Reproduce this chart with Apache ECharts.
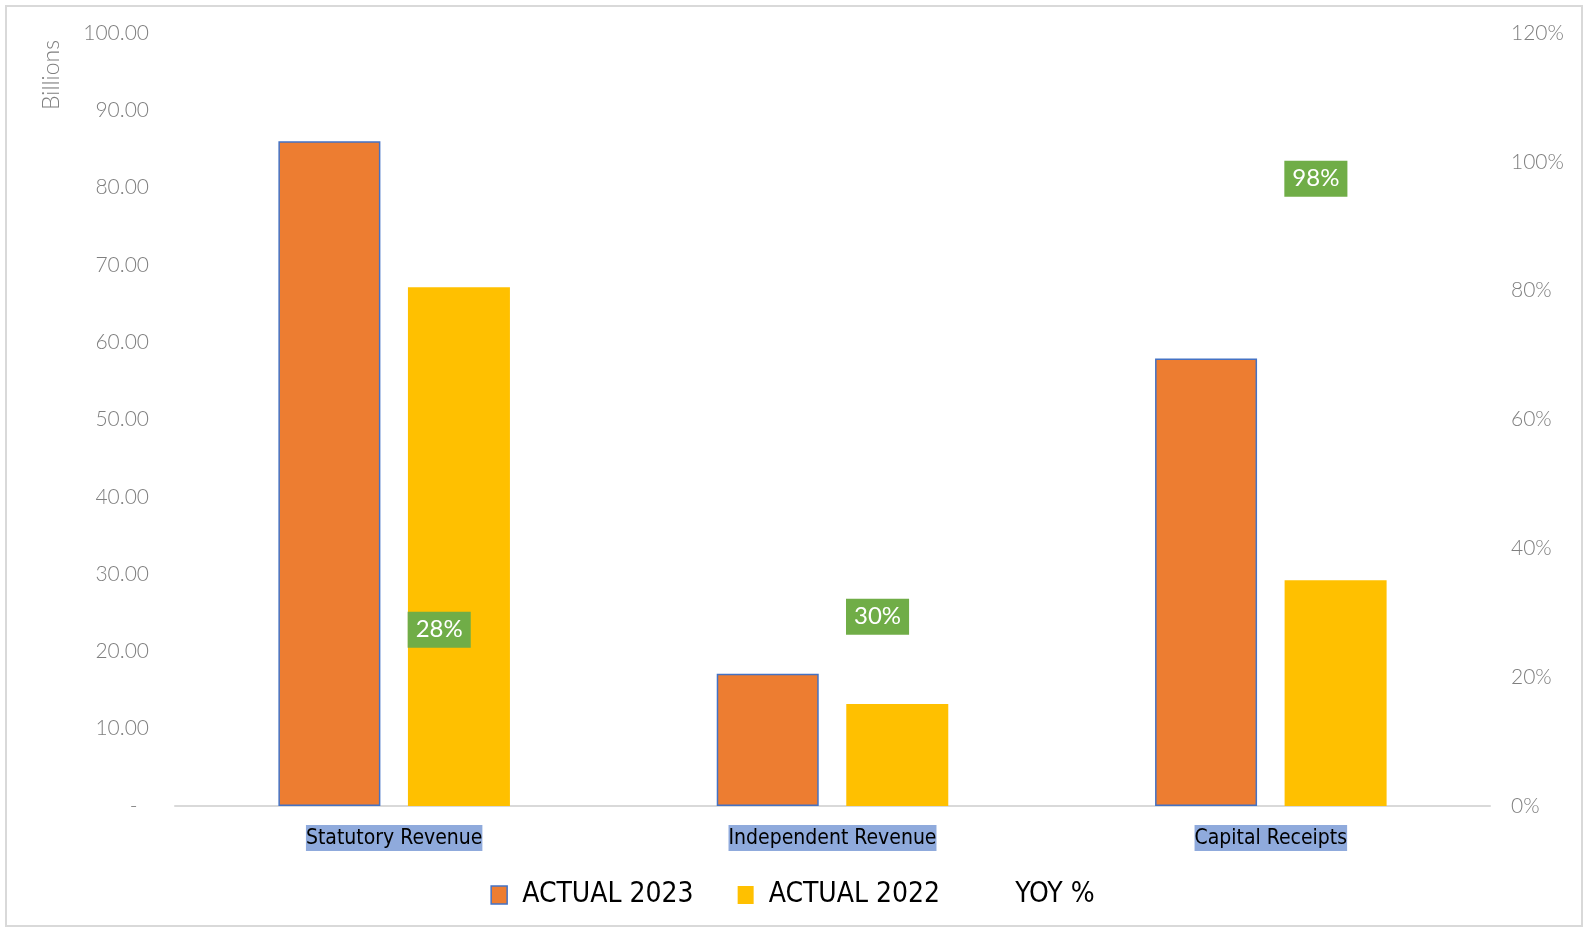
<!DOCTYPE html>
<html>
<head>
<meta charset="utf-8">
<script src="https://cdn.jsdelivr.net/npm/echarts@6/dist/echarts.min.js"></script>
<style>
  html, body { margin: 0; padding: 0; background: #fff; }
  .frame {
    position: absolute;
    left: 5px;
    top: 5px;
    width: 1574px;
    height: 918px;
    border: 2px solid #d9d9d9;
  }
  #chart {
    position: absolute;
    left: 0;
    top: 0;
    width: 1585px;
    height: 929px;
  }
</style>
</head>
<body>
<div class="frame"></div>
<div id="chart"></div>
<script>
const categories = ['Statutory Revenue', 'Independent Revenue', 'Capital Receipts'];
const actual2023 = [86.0, 17.1, 57.9];
const actual2022 = [67.1, 13.2, 29.2];
const yoyPct = [28, 30, 98];
const leftTicks = { min: 0, max: 100, interval: 10 };
const rightTicks = { min: 0, max: 120, interval: 20 };

const chart = echarts.init(document.getElementById('chart'));

const axisFont = {
  color: '#7f7f7f',
  fontSize: 21,
  fontFamily: 'Lato',
  fontWeight: 300,
};
const narrowFont = 'Liberation Sans Narrow, DejaVu Sans Condensed, sans-serif';

const option = {
  animation: false,
  grid: {
    left: 175,
    right: 95,
    top: 33,
    bottom: 123,
  },
  // "Billions" unit label, rotated, left of the value axis
  graphic: [
    {
      type: 'text',
      left: 40,
      top: 40,
      rotation: Math.PI / 2,
      style: {
        text: 'Billions',
        fill: '#7f7f7f',
        fontSize: 23,
        fontFamily: 'Lato',
        fontWeight: 300,
      },
    },
  ],
  legend: {
    bottom: 15,
    left: 'center',
    itemWidth: 16,
    itemHeight: 18,
    itemGap: 44,
    textStyle: {
      color: '#000',
      fontSize: 28,
      fontFamily: narrowFont,
      padding: [0, 0, 0, 10],
    },
    data: [
      { name: 'ACTUAL 2023', icon: 'rect', itemStyle: { color: '#ED7D31', borderColor: '#4472C4', borderWidth: 1.5 } },
      { name: 'ACTUAL 2022', icon: 'rect', itemStyle: { color: '#FFC000' } },
      { name: 'YOY %', icon: 'rect', itemStyle: { opacity: 0 }, lineStyle: { opacity: 0 } },
    ],
  },
  xAxis: {
    type: 'category',
    data: categories,
    axisLine: { lineStyle: { color: '#d9d9d9', width: 2 } },
    axisTick: { show: false },
    axisLabel: {
      color: '#000',
      fontSize: 21,
      fontFamily: narrowFont,
      backgroundColor: '#8FAADC',
      padding: [3, 0, 2, 0],
      margin: 19,
    },
  },
  yAxis: [
    {
      type: 'value',
      min: leftTicks.min,
      max: leftTicks.max,
      interval: leftTicks.interval,
      splitLine: { show: false },
      axisLine: { show: false },
      axisTick: { show: false },
      axisLabel: Object.assign({
        margin: 26,
        formatter: (v) => (v === 0 ? '-  ' : v.toFixed(2)),
      }, axisFont),
    },
    {
      type: 'value',
      min: rightTicks.min,
      max: rightTicks.max,
      interval: rightTicks.interval,
      position: 'right',
      splitLine: { show: false },
      axisLine: { show: false },
      axisTick: { show: false },
      axisLabel: Object.assign({
        margin: 21,
        formatter: '{value}%',
      }, axisFont),
    },
  ],
  series: [
    {
      name: 'ACTUAL 2023',
      type: 'bar',
      barWidth: 102,
      barGap: '27%',
      itemStyle: {
        color: '#ED7D31',
        borderColor: '#4472C4',
        borderWidth: 1.5,
      },
      data: actual2023,
    },
    {
      name: 'ACTUAL 2022',
      type: 'bar',
      barWidth: 102,
      itemStyle: {
        color: '#FFC000',
      },
      data: actual2022,
    },
    {
      name: 'YOY %',
      type: 'line',
      yAxisIndex: 1,
      symbol: 'circle',
      symbolSize: 1,
      itemStyle: { color: 'rgba(0,0,0,0)' },
      lineStyle: { opacity: 0 },
      z: 10,
      label: {
        show: true,
        position: 'right',
        distance: 13,
        offset: [0, 4],
        formatter: (p) => p.value + '%',
        color: '#fff',
        fontSize: 24,
        fontFamily: 'Lato',
        backgroundColor: '#70AD47',
        padding: [7, 8, 5, 8],
      },
      data: yoyPct,
    },
  ],
};

chart.setOption(option);
</script>
</body>
</html>
